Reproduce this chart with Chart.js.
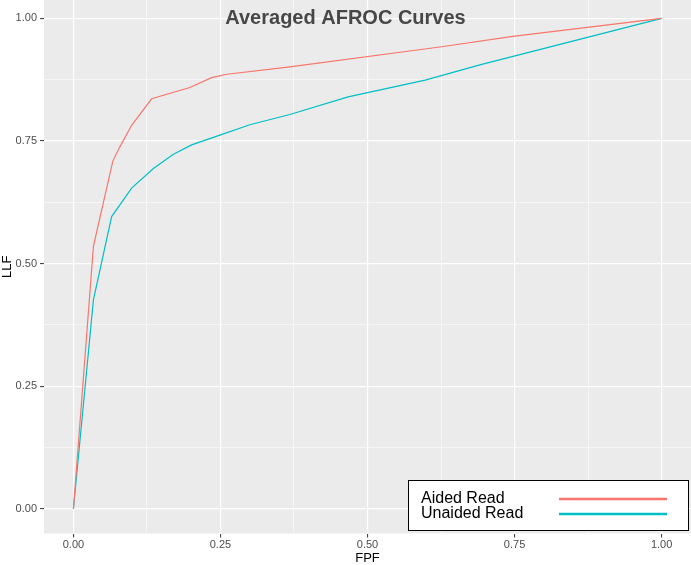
<!DOCTYPE html>
<html><head><meta charset="utf-8">
<script src="https://cdn.jsdelivr.net/npm/chart.js@4/dist/chart.umd.min.js"></script>
<style>html,body{margin:0;padding:0;background:#fff;}#wrap{width:691px;height:565px;position:relative;}</style>
</head><body><div id="wrap"><canvas id="c" width="691" height="565"></canvas></div>
<script>
const titleText = "Averaged AFROC Curves";
const seriesNames = ["Aided Read", "Unaided Read"];
const seriesColors = ["#F8766D", "#00BFC4"];
const aidedFPF = [0, 0.034, 0.048, 0.067, 0.079, 0.099, 0.133, 0.198, 0.235, 0.261, 0.368, 0.626, 0.747, 1];
const aidedLLF = [0, 0.535, 0.609, 0.709, 0.738, 0.782, 0.836, 0.859, 0.879, 0.886, 0.901, 0.942, 0.963, 1];
const unaidedFPF = [0, 0.034, 0.065, 0.099, 0.136, 0.170, 0.201, 0.249, 0.300, 0.368, 0.467, 0.598, 0.691, 1];
const unaidedLLF = [0, 0.426, 0.596, 0.654, 0.694, 0.723, 0.742, 0.762, 0.783, 0.804, 0.840, 0.874, 0.905, 1];
const majorTicks = [0, 0.25, 0.5, 0.75, 1];
const gridTicks = [0, 0.125, 0.25, 0.375, 0.5, 0.625, 0.75, 0.875, 1];
const xTitle = "FPF";
const yTitle = "LLF";

const isMajor = v => majorTicks.some(m => Math.abs(m - v) < 1e-9);
const pts = (xs, ys) => xs.map((x, i) => ({x: x, y: ys[i]}));

const panelBg = {
  id: 'panelBg',
  beforeDraw(chart) {
    const {ctx, chartArea: a} = chart;
    ctx.save();
    ctx.fillStyle = '#EBEBEB';
    ctx.fillRect(a.left, a.top, a.right - a.left, a.bottom - a.top);
    ctx.restore();
  },
  afterDraw(chart) {
    const ctx = chart.ctx;
    ctx.save();
    ctx.fillStyle = '#474747';
    ctx.font = 'bold 20px "Liberation Sans", Arial, sans-serif';
    ctx.textAlign = 'center';
    ctx.textBaseline = 'middle';
    ctx.fillText(titleText, 345.5, 18.5);
    const bx = 408.5, by = 480.5, bw = 280, bh = 50;
    ctx.fillStyle = '#FFFFFF';
    ctx.fillRect(bx, by, bw, bh);
    ctx.strokeStyle = '#000000';
    ctx.lineWidth = 1;
    ctx.strokeRect(bx, by, bw, bh);
    ctx.font = '16px "Liberation Sans", Arial, sans-serif';
    ctx.textAlign = 'left';
    chart.data.datasets.forEach((ds, i) => {
      const y = 499 + i * 15;
      ctx.fillStyle = '#000000';
      ctx.fillText(ds.label, 421, y);
      ctx.strokeStyle = ds.borderColor;
      ctx.lineWidth = 2.6;
      ctx.beginPath();
      ctx.moveTo(559, y);
      ctx.lineTo(667, y);
      ctx.stroke();
    });
    ctx.restore();
  }
};

const setTicks = scale => { scale.ticks = gridTicks.map(v => ({value: v})); };
const gridOpts = {
  color: ctx => '#FFFFFF',
  lineWidth: ctx => (ctx.tick && isMajor(ctx.tick.value)) ? 1.2 : 0.55,
  drawTicks: true,
  tickLength: 4,
  tickWidth: 1,
  tickColor: ctx => (ctx.tick && isMajor(ctx.tick.value)) ? '#333333' : 'rgba(0,0,0,0)'
};
const tickFont = {family: '"Liberation Sans", Arial, sans-serif', size: 11};

new Chart(document.getElementById('c'), {
  type: 'scatter',
  data: {
    datasets: [
      {label: seriesNames[0], data: pts(aidedFPF, aidedLLF), borderColor: seriesColors[0], showLine: true, pointRadius: 0, borderWidth: 1.2, fill: false, tension: 0},
      {label: seriesNames[1], data: pts(unaidedFPF, unaidedLLF), borderColor: seriesColors[1], showLine: true, pointRadius: 0, borderWidth: 1.2, fill: false, tension: 0}
    ]
  },
  options: {
    responsive: false,
    devicePixelRatio: 1,
    animation: false,
    layout: {padding: 0},
    plugins: {legend: {display: false}, title: {display: false}, tooltip: {enabled: false}},
    scales: {
      x: {
        type: 'linear', min: -0.05, max: 1.05,
        afterBuildTicks: setTicks,
        afterFit: s => { s.height = 31.5; s.paddingLeft = 0; s.paddingRight = 0; },
        grid: gridOpts,
        border: {display: false},
        ticks: {autoSkip: false, maxRotation: 0, padding: 1, color: '#4D4D4D', font: tickFont,
                callback: v => isMajor(v) ? v.toFixed(2) : ''},
        title: {display: true, text: xTitle, color: '#000000', padding: {top: 0, bottom: -1},
                font: {family: '"Liberation Sans", Arial, sans-serif', size: 13}}
      },
      y: {
        type: 'linear', min: -0.05, max: 1.0373,
        afterBuildTicks: setTicks,
        afterFit: s => { s.width = 44; s.paddingTop = 0; s.paddingBottom = 0; },
        grid: gridOpts,
        border: {display: false},
        ticks: {autoSkip: false, padding: 3, color: '#4D4D4D', font: tickFont,
                callback: v => isMajor(v) ? v.toFixed(2) : ''},
        title: {display: true, text: yTitle, color: '#000000', padding: {top: 0, bottom: 0},
                font: {family: '"Liberation Sans", Arial, sans-serif', size: 13}}
      }
    }
  },
  plugins: [panelBg]
});
</script></body></html>
